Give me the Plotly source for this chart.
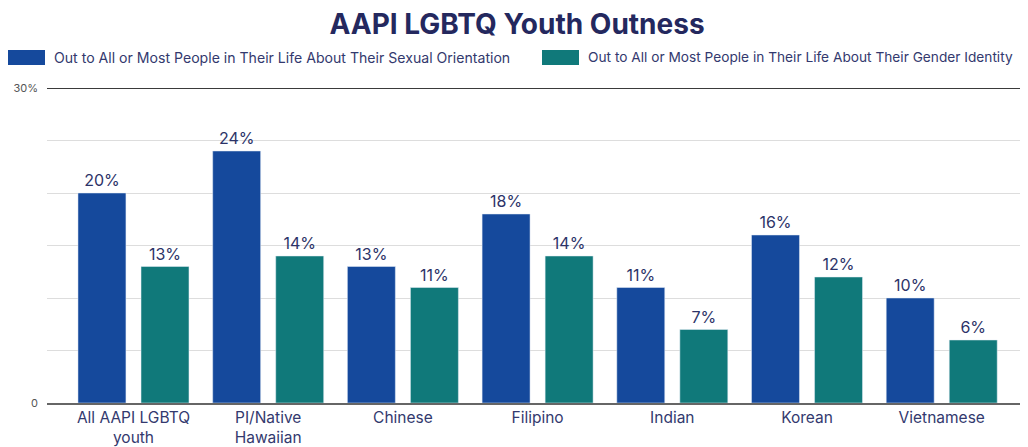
import plotly.graph_objects as go

categories = ["All AAPI LGBTQ<br>youth", "PI/Native<br>Hawaiian", "Chinese", "Filipino", "Indian", "Korean", "Vietnamese"]
sexual_orientation = [20, 24, 13, 18, 11, 16, 10]
gender_identity = [13, 14, 11, 14, 7, 12, 6]
series_names = ["Out to All or Most People in Their Life About Their Sexual Orientation",
                "Out to All or Most People in Their Life About Their Gender Identity"]
colors = ["#15499c", "#10797a"]
text_color = "#2c3368"
font = "Inter"

# page body has an 8px margin: figure is 1020x439 placed at (8, 8)
W, H = 1020, 439
L, R, T, B = 39, 6, 80, 44
PW, PH = W - L - R, H - T - B

x = list(range(len(categories)))
fig = go.Figure()
for vals, name, col, off in [(sexual_orientation, series_names[0], colors[0], -0.412),
                             (gender_identity, series_names[1], colors[1], 0.056)]:
    fig.add_trace(go.Bar(
        x=x, y=vals, name=name, marker_color=col, width=0.356, offset=off,
        text=[f"{v}%" for v in vals], textposition="outside",
        textfont=dict(size=16, color=text_color, family=font),
        cliponaxis=False, showlegend=False))

fig.update_layout(
    width=W, height=H,
    margin=dict(l=L, r=R, t=T, b=B),
    paper_bgcolor="white", plot_bgcolor="white",
    barmode="overlay",
    font=dict(family=font, color=text_color),
    title=dict(text="<b>AAPI LGBTQ Youth Outness</b>", x=509 / W, xanchor="center",
               y=1 - 16 / H, yanchor="middle", font=dict(size=28, color="#24285e", family=font)),
    xaxis=dict(range=[-0.642, 6.596], tickvals=x, ticktext=categories, automargin=False,
               tickfont=dict(size=15.5, color="#33396e"), showline=True, ticklabelstandoff=-1,
               linecolor="#666666", linewidth=2, showgrid=False, ticks=""),
    yaxis=dict(range=[0, 30], tickvals=[0, 5, 10, 15, 20, 25, 30], automargin=False,
               ticktext=["0", "", "", "", "", "", "30%"], showgrid=True,
               gridcolor="#dddddd", gridwidth=1, zeroline=False,
               tickfont=dict(size=11, color="#555555"), ticklabelstandoff=8),
)
# top rule at 30%
fig.add_shape(type="line", xref="paper", yref="y", x0=0, x1=1, y0=30, y1=30,
              line=dict(color="#3a3a3a", width=2))
# custom legend (figure pixel positions converted to paper coords)
leg_cy = 49.5
leg_y = (T + PH - leg_cy) / PH
half = 7.5 / PH
for name, col, xs, fs in [(series_names[0], colors[0], 0, 14.1), (series_names[1], colors[1], 534, 13.7)]:
    fig.add_shape(type="rect", xref="paper", yref="paper",
                  x0=(xs - L) / PW, x1=(xs + 37 - L) / PW,
                  y0=leg_y - half, y1=leg_y + half, fillcolor=col, line=dict(width=0))
    fig.add_annotation(xref="paper", yref="paper", x=(xs + 44 - L) / PW, y=leg_y,
                       text=name, showarrow=False, xanchor="left", yanchor="middle",
                       font=dict(size=fs, color="#33396e", family=font))

fig.write_html("out.html")
